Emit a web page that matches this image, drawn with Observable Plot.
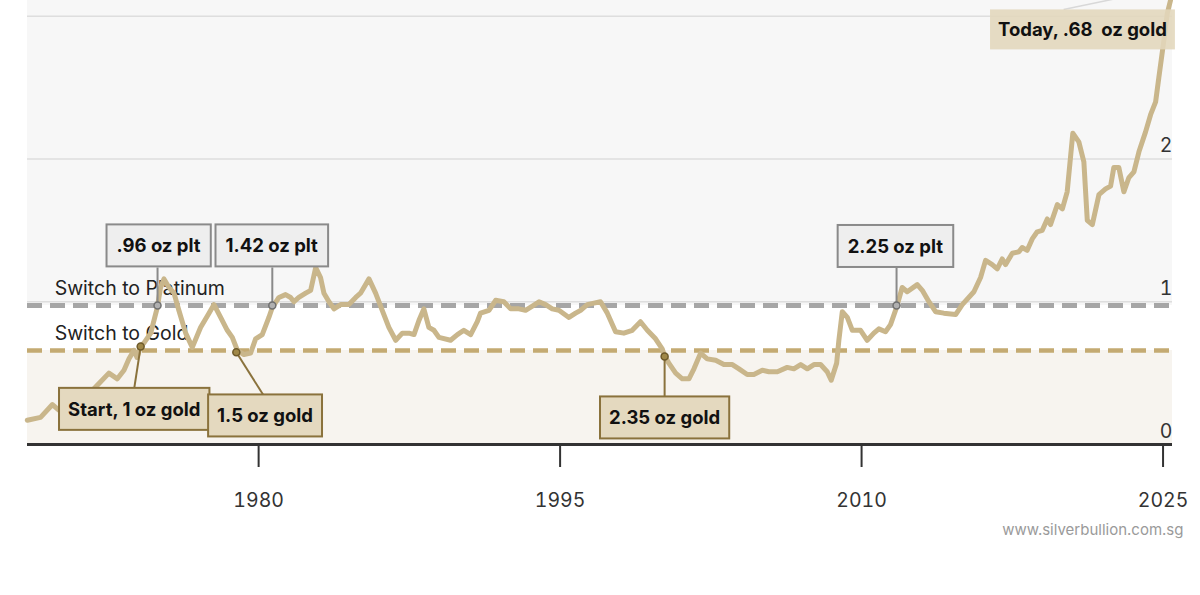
<!DOCTYPE html>
<html>
<head>
<meta charset="utf-8">
<script src="https://cdn.jsdelivr.net/npm/d3@7"></script>
<script src="https://cdn.jsdelivr.net/npm/@observablehq/plot@0.6"></script>
<style>
  html, body { margin: 0; padding: 0; background: #ffffff; }
  #chart svg { display: block; }
</style>
</head>
<body>
<div id="chart"></div>
<script>
// ---- Data: gold / platinum switching ratio over time ----
const years = [
  1968.49, 1969.15, 1969.74, 1970.06, 1970.65, 1971.23, 1971.73, 1972.14, 1972.55, 1972.97,
  1973.30, 1973.55, 1973.80, 1973.95, 1974.13, 1974.29, 1974.63, 1974.96, 1975.12, 1975.29,
  1975.54, 1975.79, 1976.03, 1976.37, 1976.70, 1977.11, 1977.53, 1977.78, 1978.11, 1978.44,
  1978.69, 1978.94, 1979.27, 1979.60, 1979.85, 1980.18, 1980.51, 1980.68, 1981.01, 1981.34,
  1981.59, 1981.76, 1982.00, 1982.34, 1982.59, 1982.84, 1983.08, 1983.25, 1983.50, 1983.75,
  1984.08, 1984.49, 1984.83, 1985.07, 1985.49, 1985.82, 1986.15, 1986.48, 1986.82, 1987.15,
  1987.48, 1987.73, 1987.98, 1988.22, 1988.47, 1988.72, 1988.97, 1989.55, 1989.89, 1990.21,
  1990.55, 1990.88, 1991.04, 1991.46, 1991.79, 1992.20, 1992.54, 1992.95, 1993.28, 1993.62,
  1993.95, 1994.28, 1994.61, 1994.94, 1995.44, 1995.77, 1996.02, 1996.35, 1996.68, 1997.01,
  1997.35, 1997.76, 1998.17, 1998.59, 1999.00, 1999.34, 1999.75, 2000.08, 2000.20, 2000.41,
  2000.75, 2001.08, 2001.41, 2001.66, 2001.99, 2002.32, 2002.74, 2003.15, 2003.57, 2003.90,
  2004.31, 2004.64, 2005.06, 2005.39, 2005.81, 2006.30, 2006.63, 2006.97, 2007.30, 2007.63,
  2007.96, 2008.29, 2008.49, 2008.76, 2008.87, 2009.04, 2009.29, 2009.54, 2009.95, 2010.28,
  2010.61, 2010.86, 2011.19, 2011.44, 2011.74, 2012.02, 2012.27, 2012.77, 2013.02, 2013.35,
  2013.68, 2014.09, 2014.68, 2015.01, 2015.59, 2015.92, 2016.17, 2016.50, 2016.75, 2017.00,
  2017.16, 2017.50, 2017.83, 2017.99, 2018.24, 2018.49, 2018.74, 2018.99, 2019.24, 2019.40,
  2019.74, 2019.99, 2020.23, 2020.51, 2020.81, 2021.06, 2021.23, 2021.48, 2021.81, 2022.14,
  2022.39, 2022.55, 2022.80, 2023.05, 2023.30, 2023.55, 2023.80, 2024.13, 2024.38, 2024.63,
  2024.79, 2025.04, 2025.21, 2025.37, 2025.50
];
const ratios = [
  0.17, 0.19, 0.28, 0.24, 0.26, 0.33, 0.38, 0.44, 0.50, 0.46,
  0.52, 0.60, 0.66, 0.61, 0.69, 0.71, 0.78, 0.96, 1.10, 1.16,
  1.10, 1.06, 0.94, 0.78, 0.68, 0.82, 0.92, 0.98, 0.89, 0.80,
  0.75, 0.66, 0.63, 0.64, 0.74, 0.77, 0.89, 0.96, 1.03, 1.05,
  1.03, 1.00, 1.03, 1.06, 1.08, 1.24, 1.17, 1.06, 1.00, 0.95,
  0.98, 0.98, 1.03, 1.06, 1.16, 1.06, 0.94, 0.82, 0.73, 0.78,
  0.78, 0.77, 0.87, 0.95, 0.82, 0.80, 0.75, 0.73, 0.77, 0.80,
  0.77, 0.86, 0.92, 0.94, 1.01, 1.00, 0.95, 0.95, 0.94, 0.97,
  1.00, 0.98, 0.95, 0.94, 0.89, 0.92, 0.94, 0.98, 0.99, 1.00,
  0.92, 0.79, 0.78, 0.80, 0.86, 0.80, 0.74, 0.67, 0.62, 0.57,
  0.50, 0.46, 0.46, 0.53, 0.64, 0.60, 0.59, 0.56, 0.56, 0.53,
  0.49, 0.49, 0.52, 0.51, 0.51, 0.54, 0.53, 0.56, 0.53, 0.56,
  0.56, 0.51, 0.45, 0.57, 0.73, 0.93, 0.89, 0.80, 0.80, 0.73,
  0.78, 0.81, 0.79, 0.84, 0.96, 1.10, 1.07, 1.12, 1.08, 1.00,
  0.93, 0.92, 0.91, 0.98, 1.07, 1.17, 1.29, 1.26, 1.23, 1.30,
  1.26, 1.34, 1.35, 1.38, 1.36, 1.44, 1.49, 1.50, 1.58, 1.54,
  1.68, 1.65, 1.77, 2.18, 2.12, 1.98, 1.57, 1.54, 1.75, 1.79,
  1.81, 1.94, 1.94, 1.77, 1.87, 1.91, 2.05, 2.19, 2.31, 2.40,
  2.57, 2.83, 3.02, 3.11, 3.30
];

// thresholds
const thresholdNames = ["Switch to Platinum", "Switch to Gold"];
const thresholdValues = [0.974, 0.658];

// axis ticks
const xTicks = [1980, 1995, 2010, 2025];
const yTicks = [0, 1, 2];
const gridTicks = [1, 2, 3];

// annotations (switch events)
const annLabels = [".96 oz plt", "1.42 oz plt", "Start, 1 oz gold", "1.5 oz gold", "2.35 oz gold", "2.25 oz plt"];
const annKinds  = ["plt", "plt", "gold", "gold", "gold", "plt"];
const annYears  = [1974.97, 1980.68, 1974.13, 1978.89, 2000.20, 2011.74];
const annValues = [0.974, 0.974, 0.686, 0.646, 0.616, 0.974];
// label anchor (text centre) and leader end, in data units
const annLabelYears  = [1975.02, 1980.65, 1973.81, 1980.32, 2000.20, 2011.68];
const annLabelValues = [1.387, 1.387, 0.242, 0.196, 0.182, 1.383];
const annLeadYears   = [1974.97, 1980.68, 1973.80, 1980.25, 2000.20, 2011.74];
const annLeadValues  = [1.24, 1.24, 0.385, 0.343, 0.329, 1.24];

const todayLabel = "Today, .68  oz gold";
const todayLabelYear = 2020.99, todayLabelValue = 2.90;
const todayLeadFrom = [2020.05, 3.047], todayLeadTo = [2022.89, 3.13];

const footer = "www.silverbullion.com.sg";

// ---- Build tables ----
const series = years.map((y, i) => ({year: y, ratio: ratios[i]}));
const thresholds = thresholdNames.map((n, i) => ({name: n, value: thresholdValues[i]}));
const annots = annLabels.map((l, i) => ({
  label: l, kind: annKinds[i], year: annYears[i], value: annValues[i],
  ly: annLabelYears[i], lv: annLabelValues[i], ey: annLeadYears[i], ev: annLeadValues[i]
}));
const bands = [
  {from: thresholdValues[0], to: 3.11, fill: "#f7f7f7"},
  {from: 0, to: thresholdValues[1], fill: "#f7f4ef"}
];

const LINE = "#c9b68b";
const GOLD_DASH = "#c4aa72";
const PLT_DASH = "#a6a6a6";
const GOLD_DARK = "#8a723c";
const PLT_DARK = "#8a8a8a";
const FONT = "Inter, 'Noto Sans', sans-serif";

const chart = Plot.plot({
  width: 1200,
  height: 595,
  marginTop: 0,
  marginLeft: 27,
  marginRight: 28,
  marginBottom: 151,
  style: {fontFamily: FONT, background: "#ffffff", color: "#333"},
  x: {domain: [1968.5, 2025.47], label: null},
  y: {domain: [0, 3.11], label: null},
  marks: [
    Plot.rect(bands, {y1: "from", y2: "to", fill: d => d.fill}),
    Plot.gridY(gridTicks, {stroke: "#dedede", strokeOpacity: 1, strokeWidth: 1.6}),
    Plot.ruleY([thresholds[0]], {y: "value", stroke: PLT_DASH, strokeWidth: 5, strokeDasharray: "15,8"}),
    Plot.ruleY([thresholds[1]], {y: "value", stroke: GOLD_DASH, strokeWidth: 4.5, strokeDasharray: "15,8"}),
    Plot.text(thresholds, {x: () => 1969.85, y: "value", text: "name", textAnchor: "start",
      dy: -17, fontSize: 19.5, fill: "#222"}),
    Plot.ruleY([0], {stroke: "#333", strokeWidth: 3}),
    Plot.axisX({ticks: xTicks, tickFormat: d => String(d), tickSize: 23, tickPadding: 26,
      fontSize: 19.5, strokeWidth: 2, color: "#333", label: null}),
    Plot.axisY({anchor: "right", ticks: yTicks, tickFormat: d => String(d), tickSize: 0, tickPadding: 0,
      textAnchor: "end", dy: -13, fontSize: 19.5, color: "#333", label: null}),
    Plot.line(series, {x: "year", y: "ratio", stroke: LINE, strokeWidth: 5,
      strokeLinejoin: "round", strokeLinecap: "round"}),
    Plot.link(annots, {x1: "year", y1: "value", x2: "ey", y2: "ev",
      stroke: d => d.kind === "plt" ? PLT_DARK : GOLD_DARK, strokeWidth: 2}),
    Plot.link([{}], {x1: () => todayLeadFrom[0], y1: () => todayLeadFrom[1],
      x2: () => todayLeadTo[0], y2: () => todayLeadTo[1], stroke: "#d8d8d8", strokeWidth: 1.5}),
    Plot.dot(annots, {x: "year", y: "value", r: 3.5,
      fill: d => d.kind === "plt" ? "#b0b0b0" : "#a08848",
      stroke: d => d.kind === "plt" ? "#707070" : "#6e5a2a", strokeWidth: 1.5}),
    Plot.text(annots, {x: "ly", y: "lv", text: "label",
      fontSize: 18.5, fontWeight: 700, fill: "#111"}),
    Plot.text([todayLabel], {x: () => todayLabelYear, y: () => todayLabelValue, text: d => d,
      fontSize: 18.5, fontWeight: 700, fill: "#111"}),
    Plot.text([footer], {frameAnchor: "bottom-right", text: d => d, textAnchor: "end",
      dx: 11, dy: 90, fontSize: 15, fill: "#9a9a9a"})
  ]
});

document.getElementById("chart").append(chart);

// ---- boxes behind annotation labels (sized from the rendered text) ----
const boxStyles = {
  plt:   {fill: "#eeeeee", stroke: PLT_DARK, sw: 2, op: 1, padX: 10, padY: 10},
  gold:  {fill: "#e4d9bf", stroke: GOLD_DARK, sw: 2, op: 1, padX: 9, padY: 10},
  today: {fill: "#e2d7bc", stroke: "none", sw: 0, op: 0.88, padX: 8, padY: 9}
};
const kindOf = new Map(annots.map(d => [d.label, d.kind]));
kindOf.set(todayLabel, "today");
const NS = "http://www.w3.org/2000/svg";
chart.querySelectorAll("text").forEach(t => {
  const kind = kindOf.get(t.textContent);
  if (!kind) return;
  const st = boxStyles[kind];
  t.style.whiteSpace = "pre";
  const b = t.getBBox();
  const r = document.createElementNS(NS, "rect");
  r.setAttribute("x", b.x - st.padX);
  r.setAttribute("y", b.y - st.padY);
  r.setAttribute("width", b.width + 2 * st.padX);
  r.setAttribute("height", b.height + 2 * st.padY);
  r.setAttribute("fill", st.fill);
  r.setAttribute("fill-opacity", st.op);
  r.setAttribute("stroke", st.stroke);
  r.setAttribute("stroke-width", st.sw);
  const tr = t.getAttribute("transform");
  if (tr) r.setAttribute("transform", tr);
  t.parentNode.insertBefore(r, t);
});
</script>
</body>
</html>
